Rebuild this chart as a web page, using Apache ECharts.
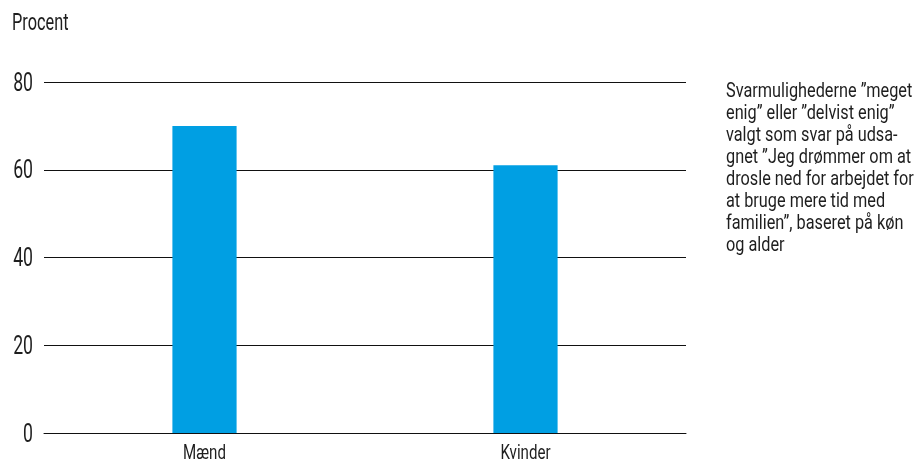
<!DOCTYPE html>
<html>
<head>
<meta charset="utf-8">
<script src="https://cdn.jsdelivr.net/npm/echarts@6/dist/echarts.min.js"></script>
<style>
  html, body { margin: 0; padding: 0; background: #fff; }
  #main { width: 916px; height: 465px; }
</style>
</head>
<body>
<div id="main"></div>
<script>
var myChart = echarts.init(document.getElementById('main'));
var fontFam = 'Roboto, "DejaVu Sans Condensed", sans-serif';
var cond = 0.68; // smal skrift (condensed) via vandret skalering
var txtColor = '#1e1e1e';

var categories = ['Mænd', 'Kvinder']; // køn
var values = [70, 61]; // procent
var yTicks = [0, 20, 40, 60, 80];
var noteLines = [
    'Svarmulighederne ”meget',
    'enig” eller ”delvist enig”',
    'valgt som svar på udsa-',
    'gnet ”Jeg drømmer om at',
    'drosle ned for arbejdet for',
    'at bruge mere tid med',
    'familien”, baseret på køn',
    'og alder'
];

function condText(x, y, text, size, align, sx) {
    return {
        type: 'text',
        x: x,
        y: y,
        scaleX: sx || cond,
        silent: true,
        style: {
            text: text,
            font: size + 'px ' + fontFam,
            fill: txtColor,
            align: align,
            verticalAlign: 'middle'
        }
    };
}

option = {
    backgroundColor: '#fff',
    animation: false,
    textStyle: { fontFamily: fontFam },
    grid: {
        left: 44,
        right: 230,
        top: 82,
        bottom: 32
    },
    xAxis: {
        type: 'category',
        data: categories,
        axisTick: { show: false },
        axisLine: { show: true, lineStyle: { color: '#111', width: 1 } },
        axisLabel: { show: false }
    },
    yAxis: {
        type: 'value',
        min: yTicks[0],
        max: yTicks[yTicks.length - 1],
        interval: 20,
        axisLine: { show: false },
        axisTick: { show: false },
        axisLabel: { show: false },
        splitLine: {
            lineStyle: { color: '#111', width: 1 }
        }
    },
    series: [{
        type: 'bar',
        data: values,
        barWidth: '20%',
        itemStyle: { color: '#009FE3' }
    }]
};
myChart.setOption(option);

// tekster i smal skrift, placeret via akserne
var graphics = [];
graphics.push(condText(12, 24, 'Procent', 24, 'left'));
yTicks.forEach(function (v) {
    var py = myChart.convertToPixel({ yAxisIndex: 0 }, v);
    graphics.push(condText(33, py + 2, String(v), 26, 'right'));
});
categories.forEach(function (c) {
    var p = myChart.convertToPixel({ gridIndex: 0 }, [c, 0]);
    graphics.push(condText(p[0], 454, c, 21, 'center', 0.72));
});
noteLines.forEach(function (line, i) {
    graphics.push(condText(726, 92 + i * 21.9, line, 21, 'left', 0.775));
});
myChart.setOption({ graphic: graphics });

window.addEventListener('resize', function() {
    myChart.resize();
});
</script>
</body>
</html>
